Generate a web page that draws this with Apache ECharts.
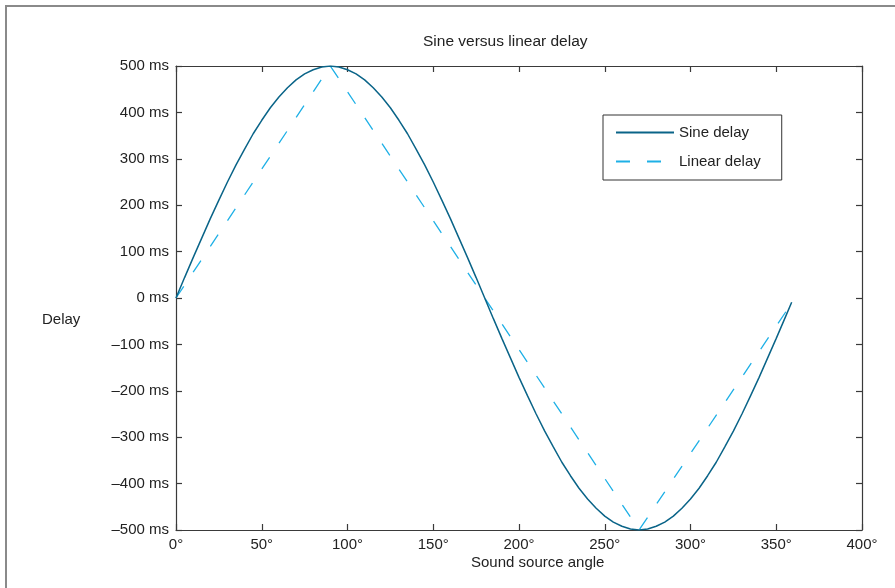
<!DOCTYPE html>
<html>
<head>
<meta charset="utf-8">
<script src="https://cdn.jsdelivr.net/npm/echarts@6/dist/echarts.min.js"></script>
<style>
html,body{margin:0;padding:0;background:#fff;}
#c{width:895px;height:588px;}
</style>
</head>
<body>
<div id="c"></div>
<script>
// Data
var sineAngles = [0,5,10,15,20,25,30,35,40,45,50,55,60,65,70,75,80,85,90,
  95,100,105,110,115,120,125,130,135,140,145,150,155,160,165,170,175,
  180,185,190,195,200,205,210,215,220,225,230,235,240,245,250,255,260,265,270,
  275,280,285,290,295,300,305,310,315,320,325,330,335,340,345,350,355,359];
var sineDelay = [0,44,87,129,171,211,250,287,321,354,383,410,433,453,470,483,492,498,500,
  498,492,483,470,453,433,410,383,354,321,287,250,211,171,129,87,44,
  0,-44,-87,-129,-171,-211,-250,-287,-321,-354,-383,-410,-433,-453,-470,-483,-492,-498,-500,
  -498,-492,-483,-470,-453,-433,-410,-383,-354,-321,-287,-250,-211,-171,-129,-87,-44,-9];
var linearAngles = [0,90,270,359];
var linearDelay = [0,500,-500,-11];
var xTicks = [0,50,100,150,200,250,300,350,400];
var yTicks = [-500,-400,-300,-200,-100,0,100,200,300,400,500];
var seriesNames = ['Sine delay','Linear delay'];

function pairs(xs, ys){ return xs.map(function(x,i){ return [x, ys[i]]; }); }

var FONT = 'Liberation Sans';
var axisColor = '#3a3a3a';
var chart = echarts.init(document.getElementById('c'), null, {renderer:'canvas'});

function xAxisCfg(pos, labels){
  return {
    type:'value', position:pos, min:xTicks[0], max:xTicks[xTicks.length-1], interval:50,
    axisLine:{show:true, onZero:false, lineStyle:{color:axisColor, width:1.2}},
    axisTick:{show:true, inside:true, length:6, lineStyle:{color:axisColor, width:1.2}},
    axisLabel:{show:labels, margin:7, color:'#222', fontFamily:FONT, fontSize:15,
      formatter:function(v){ return v + '°'; }},
    splitLine:{show:false}
  };
}
function yAxisCfg(pos, labels){
  return {
    type:'value', position:pos, min:yTicks[0], max:yTicks[yTicks.length-1], interval:100,
    axisLine:{show:true, onZero:false, lineStyle:{color:axisColor, width:1.2}},
    axisTick:{show:true, inside:true, length:6, lineStyle:{color:axisColor, width:1.2}},
    axisLabel:{show:labels, margin:7, color:'#222', fontFamily:FONT, fontSize:15,
      formatter:function(v){ return (v < 0 ? '\u2013' + Math.abs(v) : v) + ' ms'; }},
    splitLine:{show:false}
  };
}

chart.setOption({
  animation:false,
  backgroundColor:'#fff',
  title:[
    {text:'Sine versus linear delay', left:423, top:34, padding:0,
     textStyle:{fontFamily:FONT, fontSize:15.5, fontWeight:'normal', color:'#222'}},
    {text:'Sound source angle', left:471, top:555, padding:0,
     textStyle:{fontFamily:FONT, fontSize:15, fontWeight:'normal', color:'#222'}},
    {text:'Delay', left:42, top:312, padding:0,
     textStyle:{fontFamily:FONT, fontSize:15, fontWeight:'normal', color:'#222'}}
  ],
  graphic:[
    {type:'rect', shape:{x:6, y:6, width:1000, height:1000},
     style:{fill:null, stroke:'#8a8a8a', lineWidth:2}, silent:true, z:-1}
  ],
  grid:{left:176, top:66, right:33, bottom:58, containLabel:false},
  legend:{
    orient:'vertical', left:603, top:115,
    padding:[10,21,11,12], itemGap:14, itemWidth:58, itemHeight:14,
    borderColor:'#333', borderWidth:1, backgroundColor:'#fff',
    itemStyle:{color:'rgba(0,0,0,0)', borderWidth:0, opacity:0},
    textStyle:{fontFamily:FONT, fontSize:15, color:'#222', padding:[0,0,0,0]},
    data:seriesNames
  },
  xAxis:[xAxisCfg('bottom', true), xAxisCfg('top', false)],
  yAxis:[yAxisCfg('left', true), yAxisCfg('right', false)],
  series:[
    {name:seriesNames[1], type:'line', data:pairs(linearAngles, linearDelay),
     symbol:'none', showSymbol:false, z:2,
     lineStyle:{color:'#1eb0e6', width:1.3, type:[14,17]},
     itemStyle:{color:'#1eb0e6'}},
    {name:seriesNames[0], type:'line', data:pairs(sineAngles, sineDelay),
     symbol:'none', showSymbol:false, z:3,
     lineStyle:{color:'#0a6488', width:1.5},
     itemStyle:{color:'#0a6488'}}
  ]
});
</script>
</body>
</html>
